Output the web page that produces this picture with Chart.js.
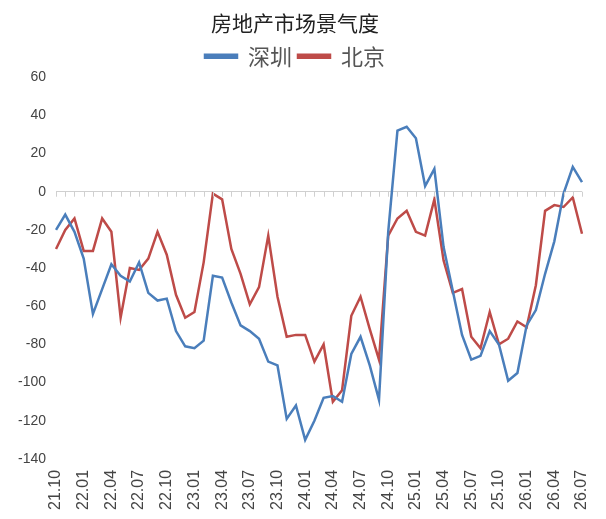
<!DOCTYPE html>
<html>
<head>
<meta charset="utf-8">
<script src="https://cdn.jsdelivr.net/npm/chart.js@4"></script>
<style>
  body { margin: 0; background: #fff; }
</style>
</head>
<body>
<canvas id="myChart" width="606" height="519"></canvas>
<script>
// months 21.10 .. 26.07
var months = [];
for (var y = 21; y <= 26; y++) {
    for (var m = 1; m <= 12; m++) {
        if (y === 21 && m < 10) continue;
        if (y === 26 && m > 7) continue;
        months.push(y + '.' + (m < 10 ? '0' + m : m));
    }
}

var shenzhen = [-20, -12, -21, -35, -64, -51, -38, -44, -47, -37, -53, -57, -56, -73, -81, -82, -78, -44, -45, -58,
    -70, -73, -77, -89, -91, -119, -112, -130, -120, -108, -107, -110, -85, -76, -91, -109, -21, 32, 34, 28,
    3, 12, -29, -52, -75, -88, -86, -73, -80, -99, -95, -70, -62, -43, -26, -1, 13, 5];
var beijing = [-30, -20, -14, -31, -31, -14, -21, -66, -40, -41, -35, -21, -33, -54, -66, -63, -37, -1, -4, -30,
    -43, -59, -50, -23, -55, -76, -75, -75, -89, -80, -110, -104, -65, -55, -72, -88, -23, -14, -10, -21,
    -23, -4, -36, -53, -51, -76, -82, -63, -80, -77, -68, -71, -49, -10, -7, -8, -3, -22];

// small tick marks along the zero line
var zeroTicks = {
    id: 'zeroTicks',
    afterDatasetsDraw: function(chart) {
        var ctx = chart.ctx;
        var x = chart.scales.x, yScale = chart.scales.y;
        var y0 = yScale.getPixelForValue(0);
        ctx.save();
        ctx.strokeStyle = '#d0d0d0';
        ctx.lineWidth = 1;
        ctx.beginPath();
        for (var i = 0; i < months.length; i++) {
            var px = Math.round(x.getPixelForValue(i)) + 0.5;
            ctx.moveTo(px, y0);
            ctx.lineTo(px, y0 + 5);
        }
        ctx.stroke();
        ctx.restore();
    }
};

var ctx = document.getElementById('myChart').getContext('2d');
var myChart = new Chart(ctx, {
    type: 'line',
    data: {
        labels: months,
        datasets: [
            { label: '深圳', data: shenzhen, borderColor: '#4a7ebb', backgroundColor: '#4a7ebb', borderWidth: 2.5, pointRadius: 0, tension: 0 },
            { label: '北京', data: beijing, borderColor: '#be4b48', backgroundColor: '#be4b48', borderWidth: 2.5, pointRadius: 0, tension: 0 }
        ]
    },
    options: {
        responsive: false,
        animation: false,
        devicePixelRatio: 1,
        layout: { padding: { left: 8, right: 24, top: 4, bottom: 6 } },
        plugins: {
            title: {
                display: true,
                text: '房地产市场景气度',
                color: '#222',
                font: { family: 'Noto Sans CJK SC', size: 21, weight: 'normal' },
                padding: { top: 6, bottom: 4 }
            },
            legend: {
                labels: {
                    color: '#555',
                    font: { family: 'Noto Sans CJK SC', size: 22 },
                    boxWidth: 32,
                    boxHeight: 3,
                    padding: 6
                }
            },
            tooltip: { enabled: false }
        },
        scales: {
            x: {
                offset: false,
                grid: { display: false },
                border: { display: false },
                ticks: {
                    autoSkip: false,
                    maxRotation: 90,
                    minRotation: 90,
                    color: '#444',
                    font: { family: 'Liberation Sans', size: 16 },
                    callback: function(v, i) { return i % 3 === 0 ? months[i] : ''; }
                }
            },
            y: {
                min: -140,
                max: 60,
                border: { display: false },
                grid: {
                    drawTicks: false,
                    color: function(c) { return c.tick && c.tick.value === 0 ? '#d0d0d0' : 'rgba(0,0,0,0)'; }
                },
                ticks: {
                    stepSize: 20,
                    padding: 10,
                    color: '#444',
                    font: { family: 'Liberation Sans', size: 14 }
                }
            }
        }
    },
    plugins: [zeroTicks]
});
</script>
</body>
</html>
